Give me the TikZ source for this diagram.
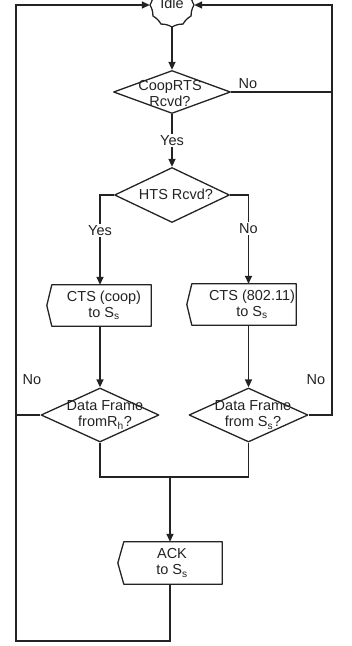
\documentclass[tikz,border=0pt]{standalone}
\usepackage{fontspec}
\setmainfont{Liberation Sans}
\usetikzlibrary{arrows.meta,shapes.geometric,calc}
\definecolor{ink}{RGB}{35,35,35}
\begin{document}
\begin{tikzpicture}[x=1pt,y=-1pt,
  line/.style={draw=ink,line width=1.6pt},
  arr/.style={line,-{Triangle[length=8pt,width=7pt]}},
  outline/.style={draw=ink,line width=1.3pt,line join=round},
  dia/.style={diamond,outline,inner sep=0pt},
  sbox/.style={rectangle,inner sep=0pt},
  txt/.style={font=\fontsize{14.5}{16}\selectfont,text=ink,align=center,inner sep=1pt},
  lab/.style={txt,fill=white,inner sep=1.5pt}
]
\useasboundingbox (0,0) rectangle (352,646);
% corner coordinates
\coordinate (tl) at (16,5);
\coordinate (tr) at (332,5);
\coordinate (bl) at (16,641);
\coordinate (m) at (170,477);
% Idle
\node[circle,minimum size=44pt,inner sep=0pt] (idle) at (172,5) {};
\draw[outline] ($(idle.center)+(0:22pt)$) \foreach \a in {30,60,...,360}{ to[bend left=14] ($(idle.center)+(\a:22pt)$) };
\node[txt] at (172,3) {Idle};
% decisions
\node[dia,minimum width=117pt,minimum height=43pt] (c1) at (172,92) {};
\node[txt] at (170,94) {CoopRTS\\Rcvd?};
\node[dia,minimum width=115pt,minimum height=55pt] (c2) at (172,195) {};
\node[txt] at (176,194) {HTS Rcvd?};
\node[dia,minimum width=118pt,minimum height=54pt] (d1) at (100,415) {};
\node[txt] at (105,415) {Data Frame\\fromR\textsubscript{h}?};
\node[dia,minimum width=119pt,minimum height=54pt] (d2) at (248.5,415) {};
\node[txt] at (253,415) {Data Frame\\from S\textsubscript{s}?};
% send boxes
\node[sbox,minimum width=99pt,minimum height=41pt] (b1) at (101.5,305.5) {};
\draw[outline] (b1.north west) -- (b1.north east) -- (b1.south east) -- (b1.south west) -- ($(b1.west)+(-5,0)$) -- cycle;
\node[txt] at (104,305) {CTS (coop)\\to S\textsubscript{s}};
\node[sbox,minimum width=104pt,minimum height=41pt] (b2) at (244,304.5) {};
\draw[outline] (b2.north west) -- (b2.north east) -- (b2.south east) -- (b2.south west) -- ($(b2.west)+(-5,0)$) -- cycle;
\node[txt] at (252,304) {CTS (802.11)\\to S\textsubscript{s}};
\node[sbox,minimum width=98pt,minimum height=42pt] (ack) at (173,563) {};
\draw[outline] (ack.north west) -- (ack.north east) -- (ack.south east) -- (ack.south west) -- ($(ack.west)+(-6,0)$) -- cycle;
\node[txt] at (172,563) {ACK\\to S\textsubscript{s}};
% connectors
\draw[arr] (idle.south) -- (c1.north);
\draw[arr] (c1.south) -- (c2.north) node[lab,pos=0.5] {Yes};
\draw[line] (c1.east) -- (c1.east -| tr);
\node[txt] at (248,84) {No};
\draw[arr] (c2.west) -| (d1.north |- b1.north) node[lab,pos=0.7] {Yes};
\draw[arr] (c2.east) -| (d2.north |- b2.north) node[lab,pos=0.69] {No};
\draw[arr] (d1.north |- b1.south) -- (d1.north);
\draw[arr] (d2.north |- b2.south) -- (d2.north);
\draw[line] (d1.south) -- (d1.south |- m) -- (d2.south |- m) -- (d2.south);
\draw[arr] (m) -- (m |- ack.north);
\draw[arr] (m |- ack.south) -- (m |- bl) -- (bl) -- (tl) -- (idle.west);
\draw[line] (d1.west) -- (d1.west -| tl);
\node[txt] at (32,380) {No};
\draw[arr] (d2.east) -- (d2.east -| tr) -- (tr) -- (idle.east);
\node[txt] at (316,380) {No};
\end{tikzpicture}
\end{document}
